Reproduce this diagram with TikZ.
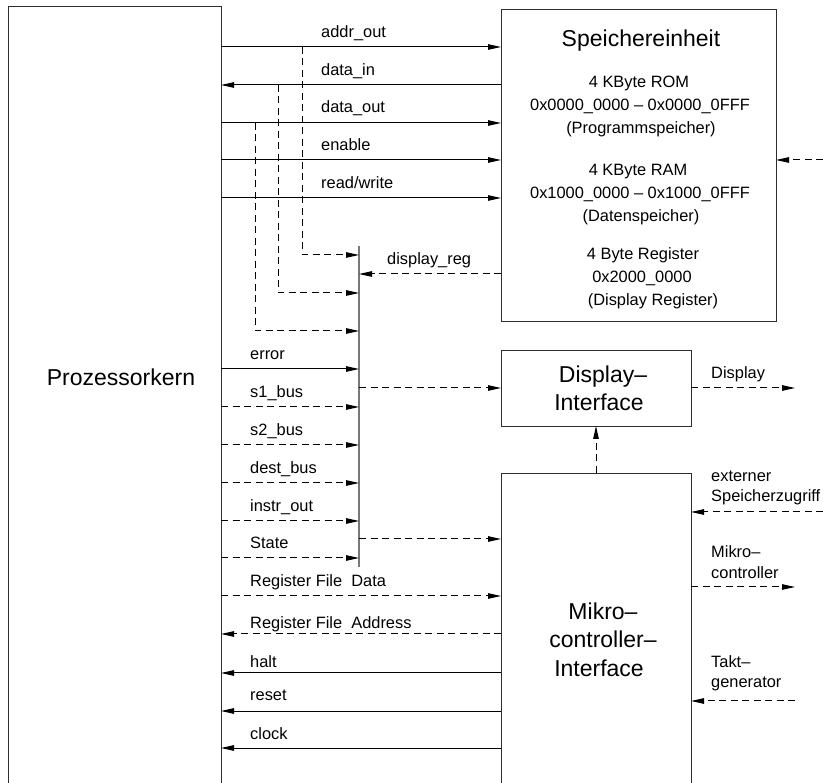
\documentclass[tikz,border=0pt]{standalone}
\usepackage{fontspec}
\setmainfont{Liberation Sans}
\usetikzlibrary{arrows.meta}
\definecolor{boxc}{RGB}{45,45,45}
\definecolor{busc}{RGB}{120,120,120}
\begin{document}
\begin{tikzpicture}[x=1pt,y=-1pt,
  lbl/.style={font=\fontsize{16.4}{19}\selectfont, anchor=base west, inner sep=0pt},
  ctr/.style={font=\fontsize{16.4}{19}\selectfont, anchor=base, inner sep=0pt},
  big/.style={font=\fontsize{23}{27}\selectfont, anchor=base, inner sep=0pt},
  box/.style={draw=boxc, line width=0.9pt, inner sep=0pt, outer sep=0pt, anchor=north west},
  sig/.style={line width=1pt, -{Triangle[length=13pt,width=5.5pt]}},
  dsh/.style={sig, dash pattern=on 7pt off 4.5pt},
  busline/.style={draw=busc, line width=1.3pt}]
\useasboundingbox (0,0) rectangle (823,783);
\clip (0,0) rectangle (823,783);

% boxes
\node[box, minimum width=213pt, minimum height=800pt] (proc) at (8,6) {};
\node[box, minimum width=275pt, minimum height=312pt] (mem) at (501,9) {};
\node[box, minimum width=190pt, minimum height=76pt] (disp) at (501,350) {};
\node[box, minimum width=190pt, minimum height=330pt] (mc) at (501,473) {};

% box texts
\node[big] (proct) at (121,386) {Prozessorkern};
\node[big] (memt) at (641,47) {Speichereinheit};
\node[ctr] (m1) at (639,88) {4 KByte ROM};
\node[ctr] (m2) at (640,111) {0x0000\_0000 – 0x0000\_0FFF};
\node[ctr] (m3) at (641,134) {(Programmspeicher)};
\node[ctr] (m4) at (638,176) {4 KByte RAM};
\node[ctr] (m5) at (640,199) {0x1000\_0000 – 0x1000\_0FFF};
\node[ctr] (m6) at (641,222) {(Datenspeicher)};
\node[ctr] (m7) at (643,260) {4 Byte Register};
\node[ctr] (m8) at (642,283) {0x2000\_0000};
\node[ctr] (m9) at (653,306) {(Display Register)};
\node[big] (dt1) at (603,383) {Display–};
\node[big] (dt2) at (599,411) {Interface};
\node[big] (mt1) at (603,620) {Mikro–};
\node[big] (mt2) at (603,648) {controller–};
\node[big] (mt3) at (599,677) {Interface};

% y levels
\coordinate (yaddr) at (0,47);
\coordinate (ydin) at (0,85);
\coordinate (ydout) at (0,123);
\coordinate (yen) at (0,160);
\coordinate (yrw) at (0,198);
\coordinate (ytapA) at (0,255);
\coordinate (ydreg) at (0,274);
\coordinate (ytapB) at (0,293);
\coordinate (ytapC) at (0,331);
\coordinate (yerr) at (0,369);
\coordinate (ybd) at (0,388);
\coordinate (ys1) at (0,407);
\coordinate (ys2) at (0,445);
\coordinate (ydest) at (0,483);
\coordinate (yext) at (0,512);
\coordinate (yinstr) at (0,521);
\coordinate (ybm) at (0,539);
\coordinate (ystate) at (0,558);
\coordinate (ymco) at (0,587);
\coordinate (yrfd) at (0,596);
\coordinate (yrfa) at (0,634);
\coordinate (yhalt) at (0,673);
\coordinate (ytakt) at (0,701);
\coordinate (yreset) at (0,711);
\coordinate (yclk) at (0,748);

% bus
\coordinate (busT) at (359,246);
\coordinate (busB) at (359,567);
\draw[busline] (busT) -- (busB);

% memory signals
\draw[sig] (proc.east |- yaddr) -- (mem.west |- yaddr);
\draw[sig] (mem.west |- ydin) -- (proc.east |- ydin);
\draw[sig] (proc.east |- ydout) -- (mem.west |- ydout);
\draw[sig] (proc.east |- yen) -- (mem.west |- yen);
\draw[sig] (proc.east |- yrw) -- (mem.west |- yrw);
\node[lbl] (laddr) at (321,38) {addr\_out};
\node[lbl] (ldin) at (321,76) {data\_in};
\node[lbl] (ldout) at (321,113) {data\_out};
\node[lbl] (len) at (321,151) {enable};
\node[lbl] (lrw) at (321,189) {read/write};

% taps to bus
\coordinate (tapA) at (302,47);
\coordinate (tapB) at (278,85);
\coordinate (tapC) at (255,123);
\draw[dsh] (tapA) |- (busT |- ytapA);
\draw[dsh] (tapB) |- (busT |- ytapB);
\draw[dsh] (tapC) |- (busT |- ytapC);

\draw[dsh] (mem.west |- ydreg) -- (busT |- ydreg);
\node[lbl] (ldreg) at (387,265) {display\_reg};

% signals to bus
\draw[sig] (proc.east |- yerr) -- (busT |- yerr);
\draw[dsh] (proc.east |- ys1) -- (busT |- ys1);
\draw[dsh] (proc.east |- ys2) -- (busT |- ys2);
\draw[dsh] (proc.east |- ydest) -- (busT |- ydest);
\draw[dsh] (proc.east |- yinstr) -- (busT |- yinstr);
\draw[dsh] (proc.east |- ystate) -- (busT |- ystate);
\node[lbl] (lerr) at (250,360) {error};
\node[lbl] (ls1) at (250,398) {s1\_bus};
\node[lbl] (ls2) at (250,436) {s2\_bus};
\node[lbl] (ldest) at (250,474) {dest\_bus};
\node[lbl] (linstr) at (250,512) {instr\_out};
\node[lbl] (lstate) at (250,549) {State};

% bus outputs
\draw[dsh] (busT |- ybd) -- (disp.west |- ybd);
\draw[dsh] (busT |- ybm) -- (mc.west |- ybm);

% register file and control
\draw[dsh] (proc.east |- yrfd) -- (mc.west |- yrfd);
\draw[dsh] (mc.west |- yrfa) -- (proc.east |- yrfa);
\draw[sig] (mc.west |- yhalt) -- (proc.east |- yhalt);
\draw[sig] (mc.west |- yreset) -- (proc.east |- yreset);
\draw[sig] (mc.west |- yclk) -- (proc.east |- yclk);
\node[lbl] (lrfd) at (250,587) {Register File~~Data};
\node[lbl] (lrfa) at (250,629) {Register File~~Address};
\node[lbl] (lhalt) at (250,667) {halt};
\node[lbl] (lreset) at (250,701) {reset};
\node[lbl] (lclk) at (250,739) {clock};

% right side
\coordinate (extmem) at (823,160);
\coordinate (dispout) at (795,388);
\coordinate (extin) at (823,512);
\coordinate (mcout) at (795,587);
\coordinate (taktin) at (795,701);
\draw[dsh] (extmem) -- (mem.east |- extmem);
\draw[dsh] (disp.east |- dispout) -- (dispout);
\draw[dsh] (extin) -- (mc.east |- extin);
\draw[dsh] (mc.east |- mcout) -- (mcout);
\draw[dsh] (taktin) -- (mc.east |- taktin);
\draw[dsh] (mc.north) -- (disp.south);
\node[lbl] (ldisp) at (711,379) {Display};
\node[lbl] (lext1) at (711,482) {externer};
\node[lbl] (lext2) at (711,502) {Speicherzugriff};
\node[lbl] (lmc1) at (711,558) {Mikro–};
\node[lbl] (lmc2) at (711,579) {controller};
\node[lbl] (ltk1) at (711,667) {Takt–};
\node[lbl] (ltk2) at (711,688) {generator};
\end{tikzpicture}
\end{document}
